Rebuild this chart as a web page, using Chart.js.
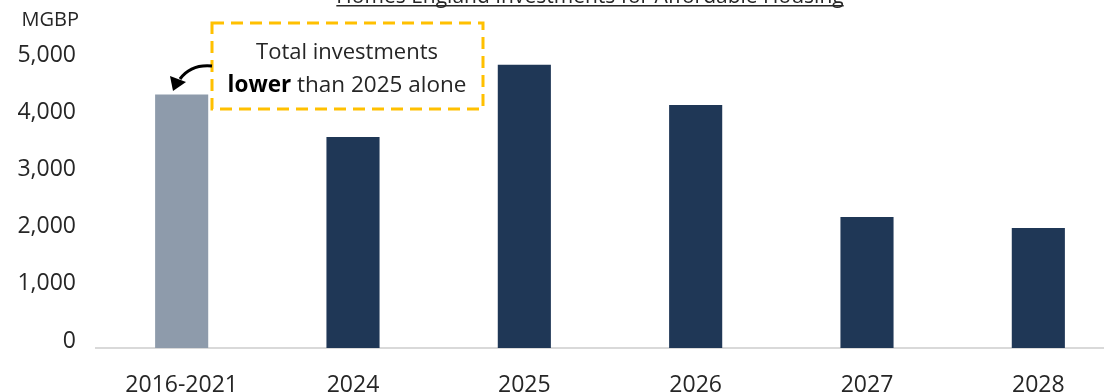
<!DOCTYPE html>
<html>
<head>
<meta charset="utf-8">
<script src="https://cdn.jsdelivr.net/npm/chart.js@4.4.1/dist/chart.umd.min.js"></script>
<style>
  html, body { margin: 0; padding: 0; background: #fff; overflow: hidden; }
  #wrap { position: absolute; left: 0; top: 0; width: 1124px; height: 410px; }
</style>
</head>
<body>
<div id="wrap"><canvas id="chart" width="1124" height="410"></canvas></div>
<script>
// data
const categories = ["2016-2021", "2024", "2025", "2026", "2027", "2028"];
const investments = [4430, 3690, 4950, 4250, 2290, 2100]; // MGBP
const barColors = ["#8e9bab", "#1f3756", "#1f3756", "#1f3756", "#1f3756", "#1f3756"];
const yTicks = [0, 1000, 2000, 3000, 4000, 5000];

const TEXT = "#262626";

// title, unit label, dashed callout and arrow
const extras = {
  id: "extras",
  afterDraw(chart) {
    const ctx = chart.ctx;
    ctx.save();

    // title (cut off by the top edge, like the reference)
    ctx.font = "21px 'Open Sans'";
    ctx.fillStyle = TEXT;
    ctx.textAlign = "center";
    ctx.textBaseline = "alphabetic";
    const title = "Homes England Investments for Affordable Housing";
    ctx.fillText(title, 590, 3);
    const w = ctx.measureText(title).width;
    ctx.fillRect(590 - w / 2, 5, w, 1.5);

    // unit
    ctx.font = "20px 'Open Sans'";
    ctx.textAlign = "right";
    ctx.textBaseline = "middle";
    ctx.fillText("MGBP", 79, 20);

    // dashed callout box
    ctx.strokeStyle = "#ffc000";
    ctx.lineWidth = 3;
    ctx.setLineDash([12, 7]);
    ctx.strokeRect(212, 23, 271, 86);
    ctx.setLineDash([]);

    // callout text
    ctx.fillStyle = TEXT;
    ctx.textBaseline = "alphabetic";
    ctx.textAlign = "center";
    ctx.font = "22px 'Open Sans'";
    ctx.fillText("Total investments", 347, 59);
    const boldPart = "lower";
    const rest = " than 2025 alone";
    ctx.font = "bold 22.5px 'Open Sans'";
    const bw = ctx.measureText(boldPart).width;
    ctx.font = "22.5px 'Open Sans'";
    const rw = ctx.measureText(rest).width;
    let x0 = 347 - (bw + rw) / 2;
    ctx.textAlign = "left";
    ctx.font = "bold 22.5px 'Open Sans'";
    ctx.fillStyle = "#000";
    ctx.fillText(boldPart, x0, 92);
    ctx.font = "22.5px 'Open Sans'";
    ctx.fillStyle = TEXT;
    ctx.fillText(rest, x0 + bw, 92);

    // curved arrow to the 2016-2021 bar
    ctx.strokeStyle = "#000";
    ctx.fillStyle = "#000";
    ctx.lineWidth = 3;
    ctx.beginPath();
    ctx.moveTo(212, 66);
    ctx.quadraticCurveTo(191, 64, 180, 79);
    ctx.stroke();
    ctx.beginPath();
    ctx.moveTo(173, 91);
    ctx.lineTo(170, 76);
    ctx.lineTo(186, 82);
    ctx.closePath();
    ctx.fill();

    ctx.restore();
  }
};

new Chart(document.getElementById("chart"), {
  type: "bar",
  data: {
    labels: categories,
    datasets: [{
      data: investments,
      backgroundColor: barColors,
      borderWidth: 0,
      barPercentage: 0.31,
      categoryPercentage: 1
    }]
  },
  options: {
    responsive: false,
    animation: false,
    layout: { padding: { top: 62, right: 0, left: 0, bottom: 0 } },
    plugins: {
      legend: { display: false },
      tooltip: { enabled: false }
    },
    scales: {
      x: {
        grid: { display: false },
        border: { display: true, color: "#d9d9d9", width: 2 },
        ticks: {
          color: TEXT,
          padding: 16,
          font: { family: "'Open Sans'", size: 23 }
        },
        afterFit(scale) { scale.height = 62; }
      },
      y: {
        min: 0,
        max: 5000,
        grid: { display: false, drawTicks: false },
        border: { display: false },
        afterBuildTicks(scale) { scale.ticks = yTicks.map(v => ({ value: v })); },
        ticks: {
          color: TEXT,
          padding: 20,
          labelOffset: -7,
          font: { family: "'Open Sans'", size: 23 }
        },
        afterFit(scale) { scale.width = 96; }
      }
    }
  },
  plugins: [extras]
});
</script>
</body>
</html>
